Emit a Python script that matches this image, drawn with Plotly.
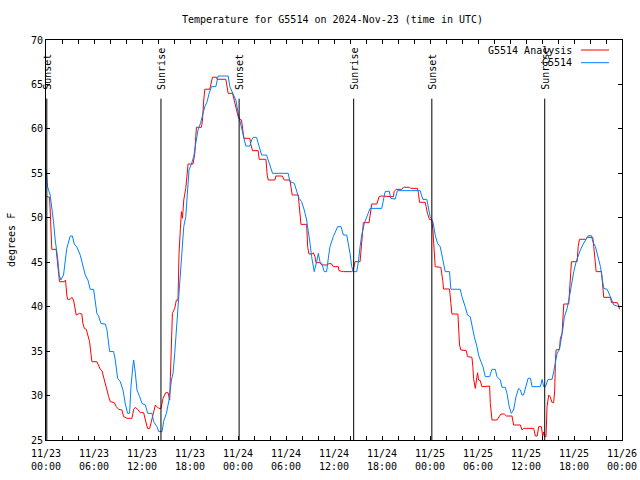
import plotly.graph_objects as go

# Hours since 2024-11-23 00:00 UTC
obs_t = [0.02,0.19,0.52,0.73,0.94,1.15,1.44,1.65,1.86,2.19,2.4,2.6,3.03,3.3,3.53,3.86,4.28,4.61,4.91,5.24,5.53,5.95,6.16,6.36,6.57,6.87,7.41,7.62,7.95,8.45,8.66,8.95,9.29,9.62,9.91,10.2,10.45,10.62,10.87,10.96,11.17,11.37,11.71,12.0,12.42,12.71,13.25,13.46,13.87,14.09,14.5,14.71,15.05,15.38,15.68,15.88,16.09,16.38,16.63,16.8,17.0,17.22,17.47,17.63,17.88,18.18,18.47,18.72,19.0,19.31,19.56,19.85,20.14,20.39,20.69,21.23,21.51,22.77,22.98,23.39,23.73,24.02,24.31,24.65,24.98,25.48,25.7,25.9,26.32,26.65,26.95,27.57,27.99,28.32,30.28,30.49,31.03,31.33,31.62,31.95,32.28,32.58,32.78,33.0,33.2,33.41,33.53,33.83,34.04,34.25,34.46,34.79,35.08,35.29,35.5,35.91,36.21,36.46,36.88,37.17,37.59,37.79,38.0,38.22,38.42,38.84,39.05,39.26,39.47,39.79,40.09,40.51,41.97,42.17,42.39,42.9,43.1,43.64,43.93,46.77,47.1,47.6,47.81,48.02,48.36,48.65,48.94,49.27,49.49,49.69,49.9,50.44,50.61,51.78,51.99,52.4,52.69,53.03,53.24,53.53,53.87,54.07,54.37,54.62,54.91,55.45,55.75,56.16,56.37,56.79,57.0,57.41,57.62,57.91,58.16,58.45,58.75,59.08,59.29,59.5,59.7,60.0,60.26,60.55,60.76,61.8,62.01,62.21,62.42,62.76,63.26,63.46,63.67,63.89,64.18,64.39,64.59,64.8,65.14,65.43,65.68,65.97,66.27,66.52,66.8,67.09,67.43,67.77,68.18,68.35,68.68,69.02,69.31,69.52,69.72,70.15,70.44,70.69,70.98,71.4,71.82]
obs_v = [55.45,53.5,52.56,51.25,49.56,47.5,45.6,43.56,43.0,43.56,45.25,46.56,47.95,47.95,47.05,46.7,45.8,44.7,43.56,43.0,41.95,41.95,40.75,39.25,38.95,38.1,38.05,37.4,34.95,34.95,34.0,31.94,31.56,30.63,29.1,28.0,28.0,31.0,33.44,34.0,32.5,30.63,29.88,29.1,28.94,28.0,28.0,27.06,26.5,25.94,25.94,27.1,28.0,29.5,31.75,32.5,34.75,38.13,41.88,43.75,46.38,49.0,50.13,52.75,55.4,56.05,56.9,58.37,59.87,60.63,61.56,62.5,63.06,64.0,64.75,64.75,65.95,65.95,64.75,63.93,63.25,61.75,60.63,59.13,58.07,58.07,58.75,59.05,59.05,58.0,57.06,57.06,55.75,55.0,55.0,54.06,53.88,52.94,52.19,51.81,50.88,49.75,48.63,47.13,45.63,44.5,43.94,45.06,46.0,45.06,44.87,43.94,43.94,45.44,46.75,47.88,48.62,49.0,49.0,48.06,48.06,47.13,46.0,44.5,43.94,43.94,45.06,46.75,48.06,49.38,50.13,51.06,51.06,52.0,52.94,53.0,52.19,52.1,53.05,53.05,52.07,52.07,50.88,50.13,49.56,48.06,47.13,46.75,45.81,44.87,43.94,43.94,41.96,41.96,41.13,40.0,39.06,38.87,37.75,36.63,35.5,34.56,33.81,33.25,32.13,32.13,32.95,32.95,32.13,31.75,30.93,30.93,30.25,28.75,28.0,28.38,29.87,30.81,30.63,30.06,30.06,31.0,31.94,31.94,31.0,31.0,31.82,31.0,31.0,31.82,31.82,32.69,33.63,34.75,35.2,36.25,37.38,38.87,39.81,41.12,42.63,43.94,45.06,45.81,46.38,46.94,47.42,47.98,47.98,47.3,46.75,45.63,44.5,43.19,42.06,41.95,41.31,40.75,40.19,40.07,40.0]

ana_t = [0.1,0.44,0.52,0.65,0.73,1.27,1.35,1.56,1.69,2.27,2.44,2.6,2.69,3.03,3.23,3.44,3.65,3.78,4.19,4.48,4.61,4.78,5.03,5.2,5.45,5.61,5.74,6.36,6.57,6.79,6.99,7.2,7.41,7.62,7.83,8.04,8.53,8.79,9.08,9.49,9.7,10.12,10.74,10.96,11.17,11.46,11.79,12.21,12.42,12.7,12.96,13.12,13.37,13.67,14.09,14.38,14.63,14.96,15.26,15.46,15.55,15.68,15.8,16.09,16.3,16.5,16.63,16.8,16.93,17.06,17.22,17.47,17.76,18.38,18.6,18.72,18.81,19.43,19.56,19.72,19.85,20.47,20.69,20.81,21.31,21.39,22.48,22.77,23.32,23.48,23.73,23.89,24.07,24.44,24.57,24.73,25.48,25.57,25.82,26.52,26.65,27.49,27.65,27.78,28.61,28.74,29.53,29.78,30.49,30.7,30.78,31.53,31.74,31.87,32.58,32.71,32.87,33.28,33.41,33.62,33.75,34.25,34.46,35.2,35.37,35.71,35.91,36.54,36.62,37.17,38.22,38.42,38.54,38.63,39.26,39.38,39.55,39.67,40.38,40.63,40.72,41.35,41.64,41.88,43.22,43.43,43.51,43.76,44.48,44.68,45.43,45.6,46.43,46.56,46.69,47.4,47.52,47.68,47.93,48.23,48.36,48.52,48.65,49.36,49.49,49.61,49.69,50.44,50.61,50.74,51.49,51.57,51.69,51.86,52.53,52.69,53.24,53.36,53.44,53.66,53.78,53.95,54.07,54.28,54.49,55.12,55.45,55.54,55.75,56.37,56.6,56.87,57.29,57.54,58.25,58.45,59.29,59.5,59.7,60.96,61.17,61.4,61.59,61.92,62.09,62.2,62.34,62.5,62.63,62.84,63.0,63.26,63.46,63.59,63.67,63.76,64.18,64.3,64.51,64.59,64.72,65.34,65.47,65.68,66.39,66.52,66.68,67.51,67.64,68.35,68.47,68.68,68.77,69.43,69.6,69.72,70.56,70.69,71.4,71.55,71.7]
ana_v = [52.4,52.3,50.88,47.88,46.45,46.45,45.8,44.31,42.81,42.81,43.0,41.31,40.83,40.83,41.05,40.75,39.81,39.06,39.25,39.17,38.13,37.57,37.45,36.81,36.06,34.75,33.81,33.81,33.44,32.95,32.8,32.13,31.56,30.63,29.88,29.31,29.2,28.75,28.45,28.38,27.63,27.44,27.44,28.45,28.67,28.45,28.07,28.07,27.25,26.3,26.3,26.9,28.0,28.94,28.56,28.56,29.69,30.32,30.32,29.5,32.13,36.63,39.25,39.81,40.75,40.75,46.0,48.81,50.69,49.94,52.0,53.31,56.05,56.05,57.25,59.12,60.18,60.18,61.0,63.25,64.46,64.46,65.31,65.81,65.81,65.58,65.58,64.0,64.0,63.44,62.69,62.13,61.19,61.0,60.25,58.94,58.94,58.38,57.55,57.55,56.58,56.58,54.81,54.25,54.25,54.7,54.7,54.25,54.25,52.94,52.56,52.56,50.13,49.26,49.26,46.75,45.93,45.93,46.07,45.63,44.95,44.95,44.69,44.69,44.88,44.8,44.5,44.5,44.05,43.94,43.94,44.1,44.69,45.06,45.06,46.19,47.88,49.45,49.45,50.69,51.55,51.55,52.37,52.45,52.45,52.37,52.94,53.2,53.2,53.43,53.43,53.31,53.31,52.75,51.74,51.74,51.25,50.5,49.82,49.75,48.63,46.75,44.5,44.42,43.75,42.81,41.99,41.99,40.38,39.17,39.17,38.13,35.69,35.13,35.05,34.38,34.3,33.25,31.94,30.81,31.56,32.57,31.75,31.68,31.0,31.0,31.07,29.12,27.25,27.25,27.6,27.92,27.92,27.7,27.7,26.69,26.69,26.13,26.31,26.31,25.45,25.45,26.5,26.5,25.45,25.9,25.38,25.38,28.75,30.06,29.9,29.2,29.2,30.63,33.63,35.13,35.2,36.44,37.0,38.87,40.3,40.3,42.44,45.06,45.06,46.75,47.58,47.58,47.8,47.8,46.75,44.95,43.94,43.94,42.25,41.05,41.05,40.45,40.45,40.2,39.7]

sun_t = [0.1, 14.37, 24.14, 38.46, 48.23, 62.34]
sun_lbl = ["Sunset", "Sunrise", "Sunset", "Sunrise", "Sunset", "Sunrise"]

tick_vals = [0, 6, 12, 18, 24, 30, 36, 42, 48, 54, 60, 66, 72]
tick_text = ["11/23<br>00:00", "11/23<br>06:00", "11/23<br>12:00", "11/23<br>18:00",
             "11/24<br>00:00", "11/24<br>06:00", "11/24<br>12:00", "11/24<br>18:00",
             "11/25<br>00:00", "11/25<br>06:00", "11/25<br>12:00", "11/25<br>18:00",
             "11/26<br>00:00"]
minor_vals = list(range(0, 73, 2))

series_names = ["G5514 Analysis", "G5514"]
series_colors = ["#ff0000", "#0080ff"]

FONT = "DejaVu Sans Mono"
L, R, T, B = 46, 18, 40, 40
PW, PH = 640 - L - R, 480 - T - B


def px(p):
    return (p - L) / PW


def py(p):
    return (480 - B - p) / PH


fig = go.Figure()
fig.add_trace(go.Scatter(x=ana_t, y=ana_v, mode="lines", name=series_names[0],
                         line=dict(color=series_colors[0], width=1)))
fig.add_trace(go.Scatter(x=obs_t, y=obs_v, mode="lines", name=series_names[1],
                         line=dict(color=series_colors[1], width=1)))

shapes = []
annotations = []
for t, lbl in zip(sun_t, sun_lbl):
    shapes.append(dict(type="line", xref="x", yref="y", x0=t, x1=t, y0=25, y1=63.4,
                       line=dict(color="black", width=1)))
    annotations.append(dict(x=t, y=64.15, xref="x", yref="y", text=lbl, textangle=-90,
                            showarrow=False, xanchor="center", yanchor="bottom",
                            font=dict(family=FONT, size=10, color="black")))

# gnuplot-style legend (text right, sample line to the right)
for i, (name, col) in enumerate(zip(series_names, series_colors)):
    ypix = 50 + i * 12.7
    annotations.append(dict(x=px(574), y=py(ypix), xref="paper", yref="paper", text=name,
                            showarrow=False, xanchor="right", yanchor="middle",
                            font=dict(family=FONT, size=10, color="black")))
    shapes.append(dict(type="line", xref="paper", yref="paper", x0=px(581), x1=px(609),
                       y0=py(ypix), y1=py(ypix), line=dict(color=col, width=1)))

annotations.append(dict(x=px(332), y=py(20), xref="paper", yref="paper",
                        text="Temperature for G5514 on 2024-Nov-23 (time in UTC)",
                        showarrow=False, xanchor="center", yanchor="middle",
                        font=dict(family=FONT, size=10, color="black")))
annotations.append(dict(x=px(11), y=0.5, xref="paper", yref="paper", text="degrees F",
                        textangle=-90, showarrow=False, xanchor="center", yanchor="middle",
                        font=dict(family=FONT, size=10, color="black")))

fig.update_layout(
    width=640, height=480,
    margin=dict(l=L, r=R, t=T, b=B, autoexpand=False),
    paper_bgcolor="white", plot_bgcolor="white",
    showlegend=False,
    font=dict(family=FONT, size=10, color="black"),
    shapes=shapes, annotations=annotations,
    xaxis=dict(range=[0, 72], tickmode="array", tickvals=tick_vals, ticktext=tick_text,
               ticks="inside", ticklen=4, tickcolor="black", showline=True, linecolor="black",
               linewidth=1, mirror="allticks", showgrid=False, zeroline=False,
               automargin=False, ticklabelstandoff=4,
               minor=dict(tickmode="array", tickvals=minor_vals, ticks="inside", ticklen=4,
                          tickcolor="black", showgrid=False)),
    yaxis=dict(range=[25, 70], tickmode="linear", tick0=25, dtick=5,
               ticks="inside", ticklen=4, tickcolor="black", showline=True, linecolor="black",
               linewidth=1, mirror="allticks", showgrid=False, zeroline=False,
               automargin=False),
)

# remove the browser's default 8px body margin so the 640x480 figure fills the window
fig.write_html("out.html", config={"displayModeBar": False},
               post_script="document.body.style.margin='0';document.body.style.overflow='hidden';")
